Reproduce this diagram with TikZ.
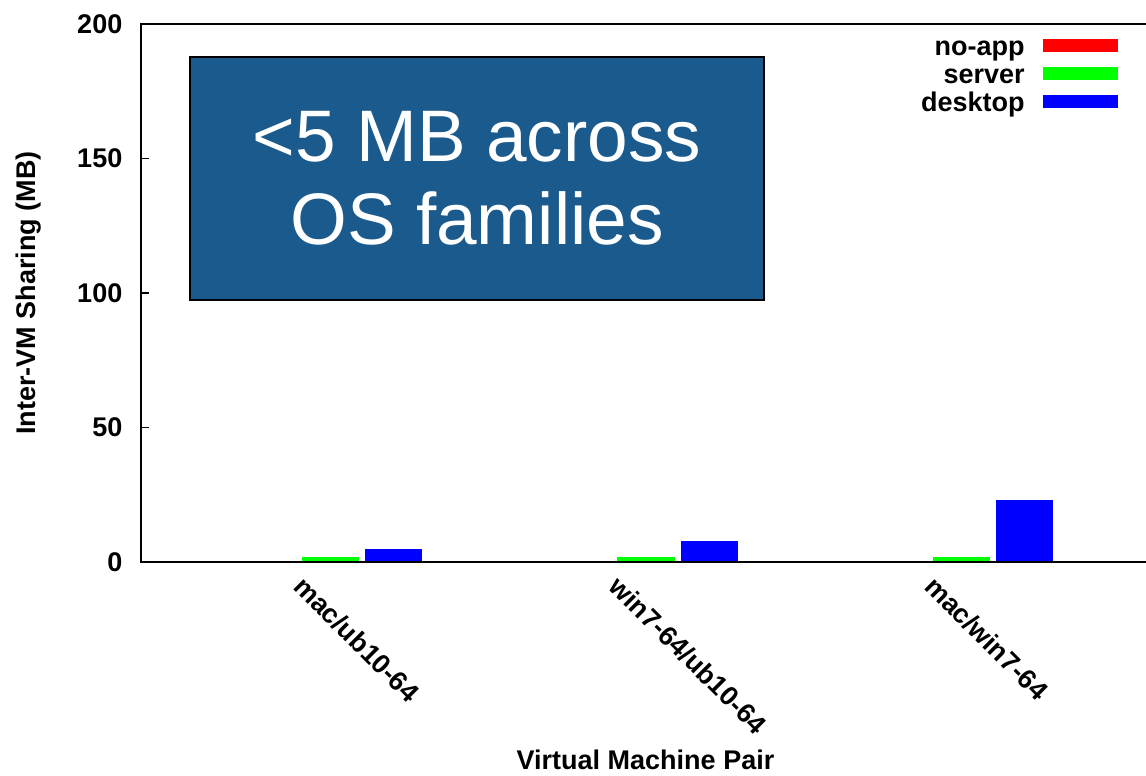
\documentclass[tikz,border=0pt]{standalone}
\usepackage{fontspec}
\setmainfont{Liberation Sans}
\usepackage{tikz}
\usetikzlibrary{calc, positioning}
\usepackage{xcolor}
\definecolor{noApp}{RGB}{255, 0, 0}
\definecolor{server}{RGB}{0, 255, 0}
\definecolor{desktop}{RGB}{0, 0, 255}
\definecolor{noteBlue}{RGB}{26, 90, 140}

\begin{document}
\begin{tikzpicture}[x=157.75pt, y=1.345pt, font=\fontsize{13.5}{16}\selectfont\bfseries]
  \useasboundingbox (-165pt,-107pt) rectangle (408pt,281pt);

  % Bars
  \foreach \g/\s/\d in {0/2/4.8, 1/2/7.8, 2/2/23.1} {
    \fill[server] (\g-0.089,0) rectangle (\g+0.092,\s);
    \fill[desktop] (\g+0.111,0) rectangle (\g+0.292,\d);
  }

  % Frame
  \draw[line width=1pt] (-0.6,0) rectangle (2.6,200);

  % Y ticks
  \foreach \y in {0,50,...,200} {
    \draw[line width=0.8pt] (-0.6,\y) -- ++(4pt,0);
    \node[anchor=east, inner sep=0pt, xshift=-9pt] (ytick\y) at (-0.6,\y) {\y};
  }

  % Pair labels
  \foreach \g/\lbl in {0/{mac/ub10-64}, 1/{win7-64/ub10-64}, 2/{mac/win7-64}}
    \node[rotate=-45, anchor=base west, inner sep=0pt]
      (pair\g) at ($(\g,0)+(-19pt,-13pt)$) {\lbl};

  % Axis labels
  \node[rotate=90] (ylabel) at ($(-0.6,100)+(-56pt,0)$) {Inter-VM Sharing (MB)};
  \node (xlabel) at ($(1,0)+(0,-99pt)$) {Virtual Machine Pair};

  % Legend
  \foreach \name/\col/\y in {no-app/noApp/258, server/server/244, desktop/desktop/230} {
    \node[anchor=base east, inner sep=0pt] (key-\col) at (347.5pt,\y pt-5pt) {\name};
    \fill[\col] (356.5pt,\y pt) ++(0,-3.25pt) rectangle ++(37.5pt,6.5pt);
  }

  % Note
  \node[draw=black, line width=0.75pt, fill=noteBlue, text=white, align=center,
        minimum width=287pt, minimum height=121.5pt,
        font=\fontsize{36.5}{41.5}\selectfont\mdseries] (note) at (73.5pt,191.75pt)
    {<5 MB across\\OS families};
\end{tikzpicture}
\end{document}
